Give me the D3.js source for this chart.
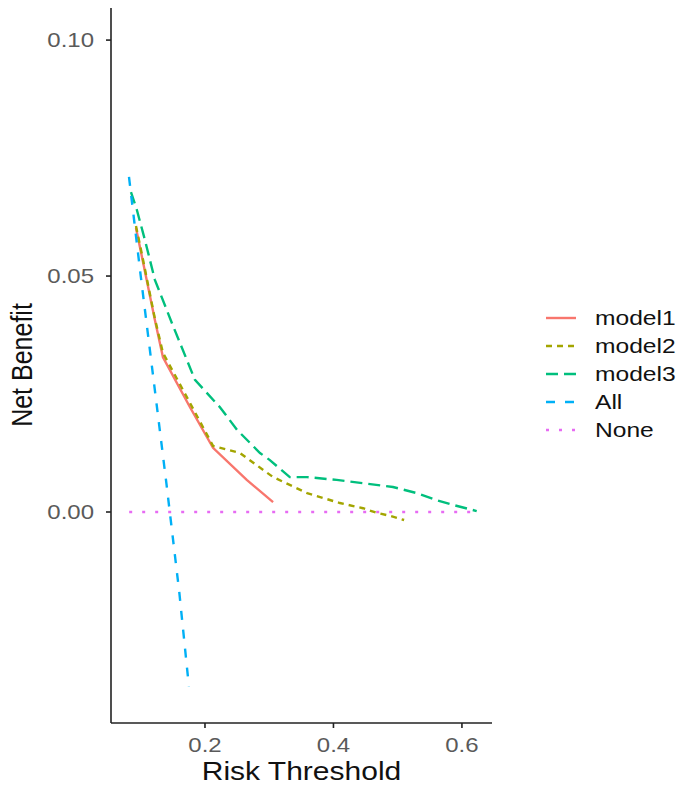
<!DOCTYPE html>
<meta charset="utf-8" />
<html lang="en">
  <head>
    <script src="https://d3js.org/d3.v7.min.js"></script>
    <style>
      body {
        margin: 0;
        background: #fff;
      }
      svg text {
        font-family: "Liberation Sans", Arial, sans-serif;
      }
      .tick-label {
        fill: #5a5a5a;
        font-size: 20px;
      }
      .axis-title {
        fill: #111;
        font-size: 25px;
      }
      .legend text {
        fill: #111;
        font-size: 20.5px;
      }
    </style>
  </head>
  <body>
    <svg width="685" height="788"></svg>
    <script>
      // decision curve values
      var model1X = [0.0926, 0.102, 0.122, 0.1346, 0.1767, 0.2125, 0.265, 0.306];
      var model1Y = [0.0602, 0.054, 0.0407, 0.0328, 0.0222, 0.0136, 0.0068, 0.0021];

      var model2X = [0.0926, 0.102, 0.122, 0.1346, 0.1767, 0.2125, 0.2545, 0.306, 0.359, 0.41, 0.446, 0.468, 0.488, 0.51];
      var model2Y = [0.0606, 0.0545, 0.041, 0.0337, 0.0231, 0.014, 0.0125, 0.0074, 0.004, 0.0019, 0.0008, -0.0002, -0.0008, -0.0017];

      var model3X = [0.0848, 0.094, 0.1066, 0.122, 0.1486, 0.1844, 0.2233, 0.25, 0.2856, 0.301, 0.332, 0.359, 0.405, 0.446, 0.4926, 0.53, 0.561, 0.586, 0.623];
      var model3Y = [0.0678, 0.064, 0.0576, 0.0492, 0.04, 0.028, 0.0222, 0.0174, 0.0125, 0.011, 0.0074, 0.0074, 0.0068, 0.0061, 0.0053, 0.004, 0.0025, 0.0015, 0.0002];

      var allX = [0.0817, 0.1, 0.12, 0.14, 0.16, 0.175];
      var allY = [0.071, 0.05, 0.028, 0.006, -0.017, -0.037];

      var noneX = [0.082, 0.623];
      var noneY = [0, 0];

      var seriesNames = ["model1", "model2", "model3", "All", "None"];
      var seriesColors = ["#F8766D", "#A3A500", "#00BF7D", "#00B0F6", "#E76BF3"];
      var seriesDash = [null, "6,5", "12,6", "9,10", "3,10"];

      var xTicks = [0.2, 0.4, 0.6];
      var yTicks = [0.0, 0.05, 0.1];

      var svg = d3.select("svg");
      var panelLeft = 111,
        panelRight = 492,
        panelTop = 8,
        panelBottom = 723;
      var stretch = 1.2; // picture is a bit wider than tall

      var x = d3.scaleLinear().domain([0.0537, 0.6468]).range([panelLeft, panelRight]);
      var y = d3.scaleLinear().domain([-0.0445, 0.1068]).range([722, panelTop]);

      var series = [
        [model1X, model1Y],
        [model2X, model2Y],
        [model3X, model3Y],
        [allX, allY],
        [noneX, noneY]
      ];

      var line = d3
        .line()
        .x(d => x(d[0]))
        .y(d => y(d[1]));

      var lines = svg.append("g").attr("class", "lines");
      series.forEach(function(s, i) {
        var pts = s[0].map((v, j) => [v, s[1][j]]);
        lines
          .append("path")
          .attr("d", line(pts))
          .attr("fill", "none")
          .attr("stroke", seriesColors[i])
          .attr("stroke-width", 2.4)
          .attr("stroke-dasharray", seriesDash[i]);
      });

      // axes
      var axes = svg.append("g").attr("stroke", "#222").attr("stroke-width", 1.6);
      axes.append("line").attr("x1", panelLeft).attr("x2", panelLeft).attr("y1", panelTop).attr("y2", panelBottom);
      axes.append("line").attr("x1", panelLeft).attr("x2", panelRight).attr("y1", panelBottom).attr("y2", panelBottom);

      xTicks.forEach(function(t) {
        axes
          .append("line")
          .attr("x1", x(t))
          .attr("x2", x(t))
          .attr("y1", panelBottom)
          .attr("y2", panelBottom + 5);
        svg
          .append("text")
          .attr("class", "tick-label")
          .attr("text-anchor", "middle")
          .attr("transform", "translate(" + x(t) + ",752) scale(" + stretch + ",1)")
          .text(d3.format(".1f")(t));
      });

      yTicks.forEach(function(t) {
        axes
          .append("line")
          .attr("x1", panelLeft - 5)
          .attr("x2", panelLeft)
          .attr("y1", y(t))
          .attr("y2", y(t));
        svg
          .append("text")
          .attr("class", "tick-label")
          .attr("text-anchor", "end")
          .attr("dy", "0.36em")
          .attr("transform", "translate(94," + y(t) + ") scale(" + stretch + ",1)")
          .text(d3.format(".2f")(t));
      });

      svg
        .append("text")
        .attr("class", "axis-title")
        .attr("text-anchor", "middle")
        .attr("transform", "translate(" + (panelLeft + panelRight) / 2 + ",780) scale(" + stretch + ",1)")
        .text("Risk Threshold");

      svg
        .append("text")
        .attr("class", "axis-title")
        .attr("text-anchor", "middle")
        .attr("transform", "translate(32," + (panelTop + 722) / 2 + ") scale(" + stretch + ",1) rotate(-90)")
        .text("Net Benefit");

      // legend
      var legend = svg.append("g").attr("class", "legend");
      seriesNames.forEach(function(name, i) {
        var ly = 318 + i * 28;
        legend
          .append("line")
          .attr("x1", 546)
          .attr("x2", 576)
          .attr("y1", ly)
          .attr("y2", ly)
          .attr("stroke", seriesColors[i])
          .attr("stroke-width", 2.4)
          .attr("stroke-dasharray", seriesDash[i]);
        legend
          .append("text")
          .attr("dy", "0.36em")
          .attr("transform", "translate(595," + ly + ") scale(" + stretch + ",1)")
          .text(name);
      });
    </script>
  </body>
</html>
